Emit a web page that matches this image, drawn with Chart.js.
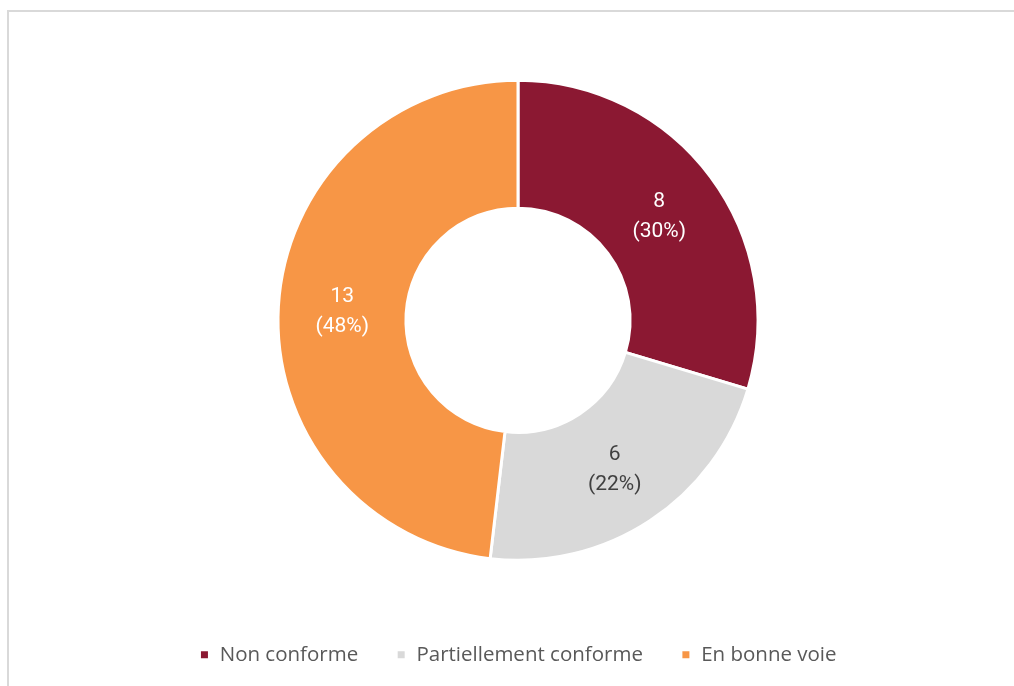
<!DOCTYPE html>
<html>
<head>
<meta charset="utf-8">
<script src="https://cdn.jsdelivr.net/npm/chart.js@4/dist/chart.umd.min.js"></script>
<style>
  html, body { margin: 0; padding: 0; background: #fff; }
  .frame {
    position: absolute; left: 7px; top: 10px; width: 1100px; height: 800px;
    border-left: 2px solid #d9d9d9; border-top: 2px solid #d9d9d9;
    box-sizing: border-box;
  }
  .wrap { position: absolute; left: 0; top: 0; width: 1014px; height: 686px; }
</style>
</head>
<body>
<div class="frame"></div>
<div class="wrap"><canvas id="chart"></canvas></div>
<script>
const categories = ['Non conforme', 'Partiellement conforme', 'En bonne voie'];
const counts = [8, 6, 13];
const percents = [30, 22, 48];
const sliceColors = ['#8b1832', '#d9d9d9', '#f79646'];
const labelColors = ['#ffffff', '#404040', '#ffffff'];

const ctx = document.getElementById('chart');

// draws "value (pct%)" in the middle of every slice
const sliceLabels = {
  id: 'sliceLabels',
  afterDatasetsDraw(chart) {
    const c = chart.ctx;
    const meta = chart.getDatasetMeta(0);
    c.save();
    c.font = '21px Roboto';
    c.textAlign = 'center';
    c.textBaseline = 'middle';
    meta.data.forEach((arc, i) => {
      const p = arc.tooltipPosition();
      c.fillStyle = labelColors[i];
      c.fillText(String(counts[i]), p.x, p.y - 13);
      c.fillText('(' + percents[i] + '%)', p.x, p.y + 17);
    });
    c.restore();
  }
};

new Chart(ctx, {
  type: 'doughnut',
  data: {
    labels: categories,
    datasets: [{
      data: counts,
      backgroundColor: sliceColors,
      borderColor: '#ffffff',
      borderWidth: 3,
      radius: 240
    }]
  },
  options: {
    responsive: true,
    maintainAspectRatio: false,
    animation: false,
    cutout: '46.7%',
    layout: { padding: { top: 34, left: 22, right: 0, bottom: 11 } },
    plugins: {
      tooltip: { enabled: false },
      legend: {
        position: 'bottom',
        labels: {
          boxWidth: 10,
          boxHeight: 10,
          padding: 38,
          color: '#595959',
          font: { family: 'Open Sans', size: 20.5 }
        }
      }
    }
  },
  plugins: [sliceLabels]
});
</script>
</body>
</html>
